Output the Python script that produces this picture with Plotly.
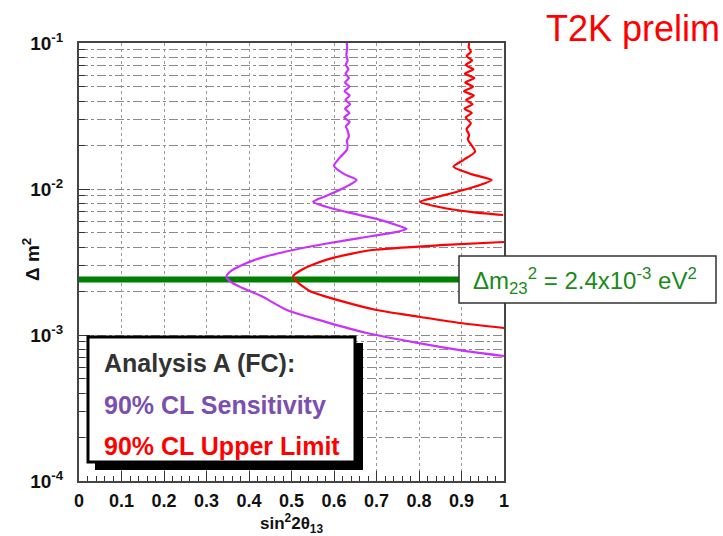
import plotly.graph_objects as go

# ---------------- data ----------------
# 90% CL sensitivity contour (x = sin^2 2theta13, log10 of dm^2)
sens_x = [0.630, 0.631, 0.629, 0.632, 0.628, 0.634, 0.627, 0.635, 0.626, 0.636, 0.625,
          0.637, 0.627, 0.638, 0.626, 0.636, 0.624, 0.637, 0.628, 0.632, 0.635, 0.630,
          0.632, 0.630, 0.612, 0.600, 0.625, 0.653, 0.625, 0.580, 0.551, 0.580, 0.638,
          0.700, 0.750, 0.771, 0.745, 0.660, 0.580, 0.504, 0.430, 0.380, 0.356, 0.347,
          0.356, 0.382, 0.430, 0.489, 0.580, 0.677, 0.790, 0.896, 1.000]
sens_logy = [-1.00, -1.04, -1.08, -1.12, -1.15, -1.18, -1.21, -1.24, -1.27, -1.30, -1.33,
             -1.36, -1.39, -1.42, -1.45, -1.48, -1.51, -1.54, -1.57, -1.60, -1.64, -1.67,
             -1.70, -1.733, -1.79, -1.842, -1.90, -1.938, -1.99, -2.05, -2.087, -2.12, -2.164,
             -2.205, -2.25, -2.274, -2.295, -2.336, -2.375, -2.418, -2.47, -2.525, -2.565, -2.60,
             -2.635, -2.675, -2.735, -2.829, -2.91, -2.986, -3.05, -3.103, -3.144]

# 90% CL upper limit contour (two pieces: leaves the frame at x = 1 and comes back)
ul_x = [0.918, 0.917, 0.922, 0.912, 0.925, 0.910, 0.928, 0.908, 0.930, 0.909, 0.927,
        0.906, 0.929, 0.911, 0.926, 0.907, 0.924, 0.910, 0.922, 0.912, 0.918, 0.915,
        0.932, 0.905, 0.881, 0.925, 0.971, 0.925, 0.850, 0.802, 0.850, 0.930, 0.998,
        None,
        1.000, 0.850, 0.690, 0.600, 0.560, 0.520, 0.504, 0.515, 0.544, 0.620, 0.700,
        0.800, 0.896, 1.000]
ul_logy = [-1.00, -1.03, -1.06, -1.09, -1.12, -1.15, -1.18, -1.21, -1.24, -1.27, -1.30,
           -1.33, -1.36, -1.39, -1.42, -1.45, -1.48, -1.51, -1.55, -1.59, -1.63, -1.66,
           -1.744, -1.80, -1.847, -1.90, -1.938, -1.99, -2.05, -2.087, -2.125, -2.16, -2.178,
           None,
           -2.363, -2.385, -2.418, -2.47, -2.507, -2.56, -2.596, -2.64, -2.70, -2.77, -2.829,
           -2.875, -2.918, -2.952]

dm23 = 2.4e-3

x_tick_vals = [0, 0.1, 0.2, 0.3, 0.4, 0.5, 0.6, 0.7, 0.8, 0.9, 1]
x_tick_text = ["0", "0.1", "0.2", "0.3", "0.4", "0.5", "0.6", "0.7", "0.8", "0.9", "1"]
y_tick_vals = [1e-4, 1e-3, 1e-2, 1e-1]
y_tick_text = ["10<sup>-4</sup>", "10<sup>-3</sup>", "10<sup>-2</sup>", "10<sup>-1</sup>"]
y_minor_vals = [k * d for d in (1e-4, 1e-3, 1e-2) for k in range(2, 10)]

# ---------------- figure ----------------
W, H = 723, 536
X0, X1, Y0, Y1 = 79, 504, 43, 481  # plot-area pixels


def px(p):
    return (p - X0) / (X1 - X0)


def py(p):
    return (Y1 - p) / (Y1 - Y0)


def tolin(vals):
    return [None if v is None else 10 ** v for v in vals]


PURPLE = "#c832ff"
RED = "#ff0000"
GREEN = "#007f00"
FONT = "Liberation Sans, Arial, sans-serif"

fig = go.Figure()
fig.add_trace(go.Scatter(x=[0, 1], y=[dm23, dm23], mode="lines",
                         line=dict(color=GREEN, width=6), hoverinfo="skip"))
fig.add_trace(go.Scatter(x=sens_x, y=tolin(sens_logy), mode="lines",
                         line=dict(color=PURPLE, width=2.2, shape="spline", smoothing=0.6)))
fig.add_trace(go.Scatter(x=ul_x, y=tolin(ul_logy), mode="lines", connectgaps=False,
                         line=dict(color=RED, width=2.2, shape="spline", smoothing=0.6)))

fig.update_layout(
    width=W, height=H,
    margin=dict(l=X0, r=W - X1, t=Y0, b=H - Y1),
    paper_bgcolor="white", plot_bgcolor="white",
    showlegend=False,
    font=dict(family=FONT, color="black"),
    xaxis=dict(range=[0, 1], tickmode="array", tickvals=x_tick_vals, ticktext=x_tick_text,
               ticks="inside", ticklen=10, tickwidth=1, tickcolor="#333",
               tickfont=dict(size=18, weight="bold", color="#111"),
               showline=True, linecolor="#444", linewidth=2, mirror=True,
               showgrid=True, gridcolor="#9a9a9a", gridwidth=1, griddash="dot",
               zeroline=False, ticklabelstandoff=2,
               minor=dict(dtick=0.02, ticks="inside", ticklen=5, tickcolor="#333",
                          showgrid=False)),
    yaxis=dict(type="log", range=[-4, -1], tickmode="array", tickvals=y_tick_vals,
               ticktext=y_tick_text, ticks="inside", ticklen=11, tickcolor="#333",
               tickfont=dict(size=19, weight="bold", color="#111"),
               showline=True, linecolor="#444", linewidth=2, mirror=True,
               showgrid=True, gridcolor="#8a8a8a", gridwidth=1, griddash="dashdot",
               zeroline=False, ticklabelstandoff=10,
               minor=dict(tickvals=y_minor_vals, ticks="inside", ticklen=6,
                          tickcolor="#333", showgrid=True, gridcolor="#8a8a8a",
                          gridwidth=1, griddash="dashdot")),
)

shapes = [
    # legend box shadow + box
    dict(type="rect", xref="paper", yref="paper", x0=px(95), x1=px(363), y0=py(470), y1=py(343),
         fillcolor="black", line=dict(width=0), layer="above"),
    dict(type="rect", xref="paper", yref="paper", x0=px(88), x1=px(355), y0=py(462), y1=py(337),
         fillcolor="white", line=dict(color="black", width=3), layer="above"),
    # dm23 label box
    dict(type="rect", xref="paper", yref="paper", x0=px(459), x1=px(716), y0=py(303), y1=py(256),
         fillcolor="white", line=dict(color="#333", width=1.5), layer="above"),
]
fig.update_layout(shapes=shapes)

ann = [
    dict(text="Analysis A (FC):", x=px(102), y=py(363), xanchor="left", yanchor="middle",
         font=dict(size=25, color="#333333", weight="bold")),
    dict(text="90% CL Sensitivity", x=px(102), y=py(405), xanchor="left", yanchor="middle",
         font=dict(size=25, color="#7a4fb0", weight="bold")),
    dict(text="90% CL Upper Limit", x=px(102), y=py(446), xanchor="left", yanchor="middle",
         font=dict(size=25, color=RED, weight="bold")),
    dict(text="Δm<sub>23</sub><sup>2</sup> = 2.4x10<sup>-3</sup> eV<sup>2</sup>",
         x=px(471), y=py(281), xanchor="left", yanchor="middle",
         font=dict(size=24, color="#1a8a1a")),
    dict(text="T2K prelim", x=px(544), y=py(29), xanchor="left", yanchor="middle",
         font=dict(size=36, color=RED)),
    dict(text="<b>Δ m<sup>2</sup></b>", x=px(31), y=py(260), xanchor="center", yanchor="middle",
         textangle=-90, font=dict(size=19, color="#111")),
    dict(text="<b>sin<sup>2</sup>2θ<sub>13</sub></b>", x=px(291), y=py(523), xanchor="center",
         yanchor="middle", font=dict(size=17, color="#111")),
]
for a in ann:
    a.update(xref="paper", yref="paper", showarrow=False)
fig.update_layout(annotations=ann)

fig.write_html("out.html")
